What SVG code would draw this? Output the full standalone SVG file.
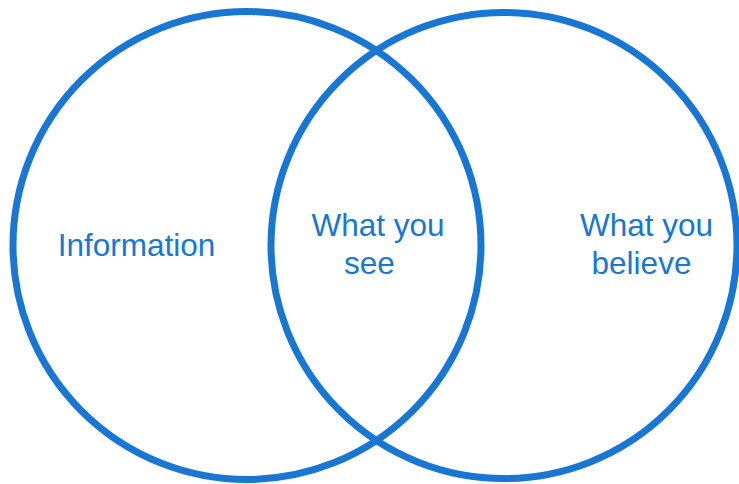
<svg xmlns="http://www.w3.org/2000/svg" width="739" height="484" viewBox="0 0 739 484">
<style>
.c{fill:none;stroke:#1976D2;stroke-width:7}
.t{font-family:"Liberation Sans",Arial,sans-serif;font-size:31.5px;fill:#1976D2;text-anchor:middle}
</style>
<rect width="739" height="484" fill="#fff"/>
<g id="information">
<circle class="c" cx="247" cy="245.5" r="234"/>
<text class="t" x="136.5" y="256">Information</text>
</g>
<g id="what-you-believe">
<circle class="c" cx="504" cy="245.5" r="233"/>
<text class="t" x="646.5" y="236">What you</text>
<text class="t" x="641.5" y="274">believe</text>
</g>
<g id="what-you-see">
<text class="t" x="378" y="236">What you</text>
<text class="t" x="369.5" y="274">see</text>
</g>
<g id="connectors"></g>
</svg>
